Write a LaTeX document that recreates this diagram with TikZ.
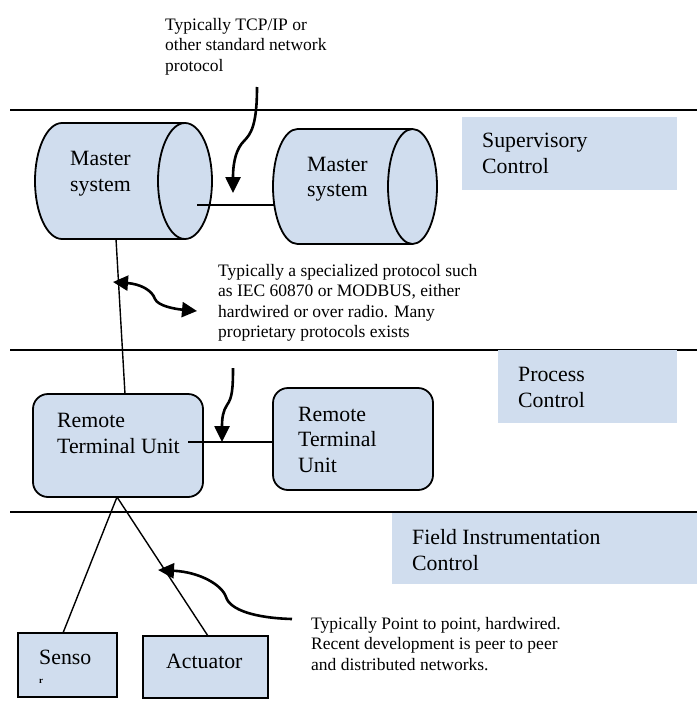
\documentclass[tikz,border=0pt]{standalone}
\usepackage{fontspec}
\setmainfont{Liberation Serif}
\usetikzlibrary{arrows.meta}
\definecolor{boxblue}{RGB}{208,221,238}
\begin{document}
\begin{tikzpicture}[x=1pt,y=-1pt,
  sepline/.style={line width=2pt},
  shapeline/.style={draw=black, line width=1.8pt, fill=boxblue},
  boxshape/.style={shapeline, inner sep=0pt, outer sep=0pt},
  conn/.style={line width=1.4pt},
  callout/.style={line width=2.6pt, -{Triangle[width=15pt,length=16pt]}},
  dcallout/.style={line width=2.6pt, {Triangle[width=15pt,length=15pt]}-{Triangle[width=15pt,length=15pt]}},
  boxtxt/.style={font=\fontsize{21.8}{25.5}\selectfont, align=left, anchor=base west, inner sep=0pt},
  lbl/.style={font=\fontsize{17.5}{20.5}\selectfont, align=left, anchor=base west, inner sep=0pt},
  levelbox/.style={fill=boxblue, draw=none, inner sep=0pt}
]
\useasboundingbox (0,0) rectangle (697,709);

% separator lines
\coordinate (s1a) at (10,110); \coordinate (s1b) at (697,110);
\coordinate (s2a) at (10,350); \coordinate (s2b) at (697,350);
\coordinate (s3a) at (10,512); \coordinate (s3b) at (697,512);
\draw[sepline] (s1a) -- (s1b);
\draw[sepline] (s2a) -- (s2b);
\draw[sepline] (s3a) -- (s3b);

% level boxes
\node[levelbox, minimum width=215pt, minimum height=73pt] (supbox) at (569.5,153.5) {};
\node[levelbox, minimum width=179pt, minimum height=73pt] (procbox) at (587.5,386.5) {};
\node[levelbox, minimum width=305pt, minimum height=71pt] (fieldbox) at (544.5,548.5) {};

% cylinder 1
\path[shapeline] (62,123) -- (185,123) arc[start angle=-90,end angle=90,x radius=27,y radius=58]
  -- (62,239) arc[start angle=90,end angle=270,x radius=27,y radius=58] -- cycle;
\draw[line width=1.8pt] (185,123) arc[start angle=-90,end angle=-270,x radius=27,y radius=58];
% cylinder 2
\path[shapeline] (297.5,129) -- (412.5,129) arc[start angle=-90,end angle=90,x radius=24.5,y radius=57.5]
  -- (297.5,244) arc[start angle=90,end angle=270,x radius=24.5,y radius=57.5] -- cycle;
\draw[line width=1.8pt] (412.5,129) arc[start angle=-90,end angle=-270,x radius=24.5,y radius=57.5];

% RTUs and field devices
\node[boxshape, rounded corners=15pt, minimum width=170pt, minimum height=103pt] (rtu1) at (118,445.5) {};
\node[boxshape, rounded corners=15pt, minimum width=160pt, minimum height=102pt] (rtu2) at (353,439) {};
\node[boxshape, minimum width=99pt, minimum height=64pt] (sensor) at (67.5,665) {};
\node[boxshape, minimum width=125pt, minimum height=62pt] (actuator) at (205.5,667) {};

% connectors
\coordinate (m1out) at (197,205);
\coordinate (m2in) at (274.5,205);
\coordinate (m1bot) at (116,239);
\coordinate (r1top) at (125,394);
\coordinate (r1out) at (188,442);
\coordinate (r1bot) at (117,497);
\coordinate (sentop) at (63,633);
\coordinate (acttop) at (208,636);
\draw[conn] (m1out) -- (m2in);
\draw[conn] (m1bot) -- (r1top);
\draw[conn] (r1out) -- (r1out -| rtu2.west);
\draw[conn] (r1bot) -- (sentop);
\draw[conn] (r1bot) -- (acttop);

% callout arrows
\coordinate (a1s) at (257,87);   \coordinate (a1e) at (233,193);
\coordinate (a2s) at (113,282);  \coordinate (a2e) at (197,311);
\coordinate (a3s) at (233,368);  \coordinate (a3e) at (222,442);
\coordinate (a4s) at (292,619);  \coordinate (a4e) at (158,570);
\draw[callout] (a1s) .. controls (257,125) and (251,134) .. (244,141) .. controls (237,148) and (233,160) .. (a1e);
\draw[dcallout] (a2s) .. controls (140,284) and (152,290) .. (155,299) .. controls (158,306) and (175,309) .. (a2e);
\draw[callout] (a3s) .. controls (233,390) and (232,398) .. (227,405) .. controls (223,411) and (222,418) .. (a3e);
\draw[callout] (a4s) .. controls (255,618) and (230,610) .. (226,597) .. controls (222,585) and (200,572) .. (a4e);

% texts (anchor = baseline of the last line)
\node[boxtxt] (m1txt) at (70,191) {Master\\system};
\node[boxtxt] (m2txt) at (307,196.5) {Master\\system};
\node[boxtxt] (r1txt) at (57,453) {Remote\\Terminal Unit};
\node[boxtxt] (r2txt) at (298,472) {Remote\\Terminal\\Unit};
\node[boxtxt] (sentxt) at (39,683) {Senso\\[-7pt]{\fontsize{9}{9}\selectfont\bfseries r}};
\node[boxtxt] (acttxt) at (166,668) {Actuator};
\node[boxtxt] (suptxt) at (482,173) {Supervisory\\Control};
\node[boxtxt] (proctxt) at (518,407) {Process\\Control};
\node[boxtxt] (fieldtxt) at (412,570) {Field Instrumentation\\Control};

\node[lbl] (l1) at (165,71) {Typically TCP/IP or\\other standard network\\protocol};
\node[lbl] (l2) at (218,337.5) {Typically a specialized protocol such\\as IEC 60870 or MODBUS, either\\hardwired or over radio. Many\\proprietary protocols exists};
\node[lbl] (l4) at (311,670) {Typically Point to point, hardwired.\\Recent development is peer to peer\\and distributed networks.};
\end{tikzpicture}
\end{document}
